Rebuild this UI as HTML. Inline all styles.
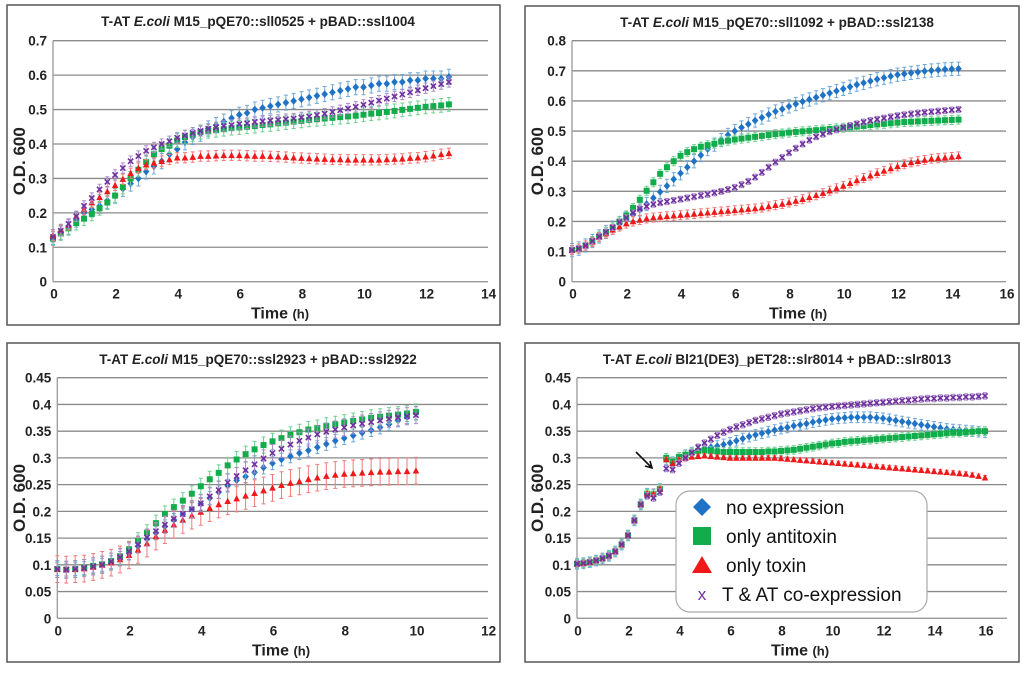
<!DOCTYPE html>
<html><head><meta charset="utf-8"><style>
body{margin:0;background:#fff;width:1024px;height:668px;overflow:hidden;font-family:"Liberation Sans",sans-serif}
svg text{font-family:"Liberation Sans",sans-serif}
</style></head><body>
<svg id="root" width="1024" height="668" viewBox="0 0 1024 668"></svg>
<script>
// ---------- data ----------
const timeStep = 0.25;
// Panel 1
const p1Blue=[0.13,0.145,0.16,0.18,0.20,0.21,0.22,0.235,0.25,0.27,0.285,0.30,0.32,0.335,0.35,0.37,0.385,0.405,0.42,0.43,0.445,0.455,0.465,0.475,0.485,0.49,0.50,0.505,0.51,0.515,0.52,0.525,0.53,0.535,0.54,0.545,0.55,0.555,0.56,0.565,0.565,0.57,0.575,0.575,0.58,0.58,0.585,0.585,0.59,0.59,0.59,0.595];
const p1Green=[0.125,0.14,0.155,0.17,0.183,0.197,0.213,0.23,0.25,0.275,0.30,0.325,0.348,0.37,0.385,0.395,0.41,0.42,0.428,0.435,0.437,0.44,0.443,0.446,0.448,0.45,0.452,0.455,0.457,0.46,0.462,0.465,0.467,0.47,0.472,0.474,0.476,0.478,0.48,0.482,0.485,0.488,0.49,0.493,0.496,0.499,0.502,0.505,0.508,0.51,0.512,0.515];
const p1Red=[0.135,0.15,0.165,0.19,0.21,0.23,0.245,0.262,0.28,0.298,0.315,0.33,0.34,0.345,0.35,0.355,0.36,0.36,0.362,0.365,0.365,0.366,0.367,0.367,0.367,0.366,0.365,0.365,0.364,0.363,0.362,0.36,0.359,0.358,0.357,0.356,0.355,0.355,0.354,0.354,0.354,0.354,0.354,0.355,0.356,0.357,0.359,0.36,0.363,0.366,0.37,0.373];
const p1Purple=[0.13,0.148,0.168,0.19,0.22,0.243,0.268,0.29,0.31,0.33,0.35,0.365,0.38,0.39,0.4,0.408,0.418,0.425,0.432,0.438,0.444,0.448,0.452,0.455,0.458,0.46,0.464,0.466,0.468,0.47,0.472,0.474,0.477,0.48,0.484,0.488,0.493,0.498,0.503,0.508,0.514,0.52,0.526,0.532,0.538,0.544,0.55,0.556,0.562,0.568,0.574,0.58];
const p1Err=[0.022,0.02,0.015,0.015];
// Panel 2
const p2Blue=[0.105,0.11,0.12,0.135,0.15,0.165,0.18,0.195,0.21,0.225,0.24,0.258,0.278,0.298,0.318,0.34,0.36,0.38,0.4,0.42,0.44,0.455,0.47,0.487,0.5,0.512,0.523,0.535,0.545,0.555,0.565,0.573,0.582,0.59,0.598,0.605,0.612,0.619,0.626,0.633,0.64,0.647,0.654,0.66,0.666,0.672,0.677,0.682,0.687,0.69,0.693,0.696,0.699,0.701,0.703,0.705,0.706,0.707];
const p2Green=[0.105,0.11,0.12,0.135,0.15,0.165,0.18,0.2,0.22,0.245,0.272,0.302,0.33,0.358,0.38,0.4,0.418,0.43,0.44,0.448,0.453,0.458,0.465,0.468,0.472,0.475,0.478,0.481,0.484,0.487,0.49,0.492,0.495,0.497,0.499,0.501,0.503,0.505,0.507,0.509,0.511,0.513,0.515,0.517,0.52,0.522,0.524,0.526,0.528,0.53,0.531,0.532,0.533,0.534,0.535,0.536,0.537,0.538];
const p2Red=[0.105,0.11,0.12,0.132,0.148,0.16,0.172,0.183,0.193,0.2,0.205,0.21,0.213,0.215,0.217,0.219,0.221,0.223,0.225,0.227,0.229,0.231,0.233,0.235,0.237,0.239,0.241,0.243,0.246,0.25,0.254,0.258,0.263,0.268,0.274,0.28,0.287,0.294,0.302,0.31,0.318,0.327,0.336,0.344,0.352,0.36,0.368,0.376,0.383,0.39,0.396,0.4,0.404,0.408,0.41,0.412,0.414,0.416];
const p2Purple=[0.105,0.11,0.12,0.135,0.15,0.165,0.18,0.198,0.212,0.228,0.242,0.25,0.257,0.262,0.266,0.27,0.274,0.278,0.282,0.286,0.29,0.295,0.3,0.306,0.313,0.322,0.333,0.347,0.363,0.38,0.397,0.412,0.428,0.443,0.457,0.47,0.481,0.49,0.498,0.505,0.512,0.518,0.524,0.53,0.535,0.539,0.543,0.547,0.551,0.554,0.557,0.56,0.562,0.564,0.566,0.568,0.57,0.572];
const p2Err=[0.022,0.015,0.015,0.01];
// Panel 3
const p3Blue=[0.092,0.091,0.092,0.094,0.097,0.1,0.105,0.113,0.122,0.135,0.148,0.16,0.172,0.184,0.195,0.204,0.214,0.225,0.236,0.248,0.258,0.265,0.273,0.282,0.29,0.297,0.303,0.309,0.314,0.32,0.326,0.332,0.337,0.342,0.347,0.352,0.357,0.363,0.37,0.376,0.384];
const p3Green=[0.092,0.091,0.092,0.095,0.098,0.101,0.107,0.116,0.129,0.145,0.16,0.178,0.195,0.208,0.22,0.233,0.247,0.26,0.272,0.286,0.297,0.307,0.316,0.324,0.331,0.337,0.343,0.348,0.353,0.356,0.36,0.363,0.366,0.369,0.372,0.375,0.377,0.379,0.381,0.383,0.386];
const p3Red=[0.092,0.091,0.092,0.093,0.096,0.1,0.104,0.11,0.118,0.128,0.14,0.153,0.165,0.175,0.184,0.192,0.199,0.206,0.213,0.219,0.224,0.229,0.234,0.239,0.244,0.249,0.253,0.256,0.26,0.263,0.266,0.268,0.27,0.271,0.272,0.273,0.274,0.274,0.275,0.275,0.276];
const p3Purple=[0.092,0.091,0.092,0.094,0.097,0.1,0.106,0.114,0.125,0.138,0.151,0.163,0.175,0.186,0.195,0.204,0.215,0.228,0.24,0.254,0.266,0.277,0.288,0.299,0.309,0.317,0.325,0.332,0.338,0.344,0.349,0.353,0.357,0.361,0.364,0.367,0.37,0.373,0.376,0.378,0.38];
const p3Err=[0.012,0.015,0.025,0.016];
// Panel 4
const p4Early=[0.102,0.103,0.105,0.108,0.112,0.117,0.125,0.138,0.155,0.183,0.213,0.233,0.232,0.242];
const p4EarlyPurple=[0.102,0.103,0.105,0.108,0.112,0.117,0.125,0.138,0.155,0.183,0.213,0.229,0.225,0.236];
const p4Blue=[0.298,0.292,0.3,0.305,0.31,0.315,0.318,0.32,0.322,0.325,0.328,0.332,0.336,0.34,0.343,0.346,0.349,0.352,0.355,0.357,0.36,0.362,0.364,0.367,0.369,0.371,0.373,0.374,0.375,0.376,0.376,0.376,0.376,0.375,0.374,0.372,0.37,0.368,0.366,0.364,0.362,0.36,0.358,0.356,0.354,0.353,0.352,0.351,0.35,0.349,0.348];
const p4Green=[0.3,0.293,0.302,0.306,0.31,0.313,0.314,0.313,0.312,0.311,0.311,0.311,0.311,0.311,0.311,0.311,0.312,0.312,0.313,0.314,0.315,0.317,0.319,0.321,0.323,0.325,0.327,0.328,0.33,0.331,0.332,0.333,0.334,0.335,0.336,0.337,0.338,0.339,0.34,0.341,0.342,0.343,0.344,0.345,0.346,0.347,0.347,0.348,0.349,0.35,0.35];
const p4Red=[0.297,0.29,0.297,0.3,0.302,0.303,0.304,0.303,0.302,0.301,0.3,0.3,0.3,0.3,0.3,0.3,0.3,0.3,0.299,0.298,0.297,0.296,0.295,0.294,0.293,0.292,0.291,0.29,0.289,0.288,0.287,0.286,0.285,0.284,0.283,0.282,0.281,0.28,0.279,0.278,0.277,0.276,0.275,0.274,0.273,0.272,0.271,0.27,0.268,0.266,0.263];
const p4Purple=[0.28,0.278,0.29,0.3,0.31,0.32,0.328,0.335,0.342,0.348,0.353,0.358,0.362,0.366,0.37,0.373,0.376,0.379,0.382,0.384,0.386,0.388,0.39,0.392,0.394,0.395,0.396,0.397,0.398,0.399,0.4,0.401,0.402,0.403,0.404,0.405,0.406,0.407,0.408,0.409,0.41,0.411,0.411,0.412,0.412,0.413,0.413,0.414,0.414,0.415,0.416];
const p4Err=[0.01,0.008,0.004,0.006];
const p4LateStart=3.5;
const legendLabels=["no expression","only antitoxin","only toxin","T & AT co-expression"];
// ---------- drawing ----------
const NS="http://www.w3.org/2000/svg";
const root=document.getElementById('root');
function mk(tag,attrs,parent){const e=document.createElementNS(NS,tag);for(const k in attrs)e.setAttribute(k,attrs[k]);(parent||root).appendChild(e);return e;}
const COL=["#1f73c6","#12ad4b","#f01818","#7030a0"];
const ECOL=["#6fa8dc","#6fcf8f","#f27a7a","#a98bc8"];
const KIND=["diamond","square","triangle","x"];
function marker(g,kind,cx,cy,c){
  let e;
  if(kind==="diamond"){e=mk('path',{d:`M${cx} ${cy-3.8}L${cx+3.3} ${cy}L${cx} ${cy+3.8}L${cx-3.3} ${cy}Z`,fill:c},g);}
  else if(kind==="square"){e=mk('rect',{x:cx-3,y:cy-3,width:6,height:6,fill:c},g);}
  else if(kind==="triangle"){e=mk('path',{d:`M${cx} ${cy-3.5}L${cx+3.3} ${cy+2.8}L${cx-3.3} ${cy+2.8}Z`,fill:c},g);}
  else {e=mk('path',{d:`M${cx-2.6} ${cy-2.6}L${cx+2.6} ${cy+2.6}M${cx+2.6} ${cy-2.6}L${cx-2.6} ${cy+2.6}`,stroke:c,'stroke-width':1.6,fill:'none'},g);}
  return e;
}
function panel(cfg){
  const g=mk('g',{});
  
  
  const b=mk('rect',{x:cfg.box[0],y:cfg.box[1],width:cfg.box[2],height:cfg.box[3],fill:'#fff',stroke:'#555','stroke-width':1.5},g);
  
  const X=v=>cfg.x0+v*cfg.xs, Y=v=>cfg.y0-(v/cfg.ymax)*(cfg.y0-cfg.y1);
  // grid
  for(let i=0;i<=cfg.ny;i++){const v=i*cfg.ystep;const y=Y(v);
    const l=mk('line',{x1:cfg.x0,x2:cfg.xend,y1:y,y2:y,stroke:i===0?'#999':'#8a8a8a','stroke-width':1.3},g);
    
    const t=mk('text',{x:cfg.x0-6,y:y+5,'text-anchor':'end','font-size':13.5,'font-weight':'bold',fill:'#222'},g);
    t.textContent=String(+v.toFixed(2));}
  const ax=mk('line',{x1:cfg.x0,x2:cfg.x0,y1:cfg.y1,y2:cfg.y0,stroke:'#999','stroke-width':1.3},g);
  
  for(let v=0;v<=cfg.xmax;v+=2){const t=mk('text',{x:X(v)+1,y:cfg.y0+17,'text-anchor':'middle','font-size':13.5,'font-weight':'bold',fill:'#222'},g);
    t.textContent=v;}
  const ti=mk('text',{x:cfg.tx,y:cfg.box[1]+21,'text-anchor':'middle','font-size':13.5,'font-weight':'bold',fill:'#222'},g);
  ti.innerHTML=cfg.title;
  const xt=mk('text',{x:cfg.xtx,y:cfg.y0+37,'text-anchor':'middle','font-size':16,'font-weight':'bold',fill:'#222'},g);
  xt.innerHTML='Time <tspan font-size="13">(h)</tspan>';
  const yt=mk('text',{x:0,y:0,'text-anchor':'middle','font-size':17,'font-weight':'bold',fill:'#222',transform:`translate(${cfg.box[0]+18},${(cfg.y0+cfg.y1)/2}) rotate(-90)`},g);
  yt.textContent='O.D. 600';
  cfg.series.forEach((s,si)=>{
    const sg=mk('g',{},g);
    
    s.vals.forEach((v,i)=>{const t=s.start+i*timeStep;const cx=X(t),cy=Y(v);
      const e=cfg.err[si];
      const eb=mk('path',{d:`M${cx} ${Y(v-e)}V${Y(v+e)}M${cx-2} ${Y(v-e)}H${cx+2}M${cx-2} ${Y(v+e)}H${cx+2}`,stroke:ECOL[si],'stroke-width':1,fill:'none'},sg);
      
      const m=marker(sg,KIND[si],cx,cy,COL[si]);
      
    });
  });
  return {g,X,Y};
}
panel({name:'panel-sll0525',box:[7,5,493,320],x0:53,xs:(487.7-53)/14,xend:488,xmax:14,y0:281.7,y1:40.7,ymax:0.7,ystep:0.1,ny:7,tx:258,xtx:280,
  title:'T-AT <tspan font-style="italic">E.coli</tspan> M15_pQE70::sll0525 + pBAD::ssl1004',err:p1Err,
  series:[{vals:p1Blue,start:0},{vals:p1Green,start:0},{vals:p1Red,start:0},{vals:p1Purple,start:0}]});
panel({name:'panel-sll1092',box:[525,6,494,318],x0:572,xs:(1006-572)/16,xend:1006,xmax:16,y0:281.7,y1:40.7,ymax:0.8,ystep:0.1,ny:8,tx:777,xtx:798,
  title:'T-AT <tspan font-style="italic">E.coli</tspan> M15_pQE70::sll1092 + pBAD::ssl2138',err:p2Err,
  series:[{vals:p2Blue,start:0},{vals:p2Green,start:0},{vals:p2Red,start:0},{vals:p2Purple,start:0}]});
panel({name:'panel-ssl2923',box:[7,343,493,319],x0:57.3,xs:(487.7-57.3)/12,xend:488,xmax:12,y0:618.3,y1:377.7,ymax:0.45,ystep:0.05,ny:9,tx:258,xtx:281,
  title:'T-AT <tspan font-style="italic">E.coli</tspan> M15_pQE70::ssl2923 + pBAD::ssl2922',err:p3Err,
  series:[{vals:p3Blue,start:0},{vals:p3Green,start:0},{vals:p3Red,start:0},{vals:p3Purple,start:0}]});
const p4=panel({name:'panel-slr8014',box:[525,343,494,319],x0:577,xs:25.5,xend:1007,xmax:16,y0:618.3,y1:377.7,ymax:0.45,ystep:0.05,ny:9,tx:777,xtx:800,
  title:'T-AT <tspan font-style="italic">E.coli</tspan> Bl21(DE3)_pET28::slr8014 + pBAD::slr8013',err:p4Err,
  series:[{vals:p4Early,start:0},{vals:p4Early,start:0},{vals:p4Early,start:0},{vals:p4EarlyPurple,start:0},
          ].concat([])});
// late part of panel 4
[p4Blue,p4Green,p4Red,p4Purple].forEach((arr,si)=>{
  const sg=mk('g',{},p4.g);
  
  
  arr.forEach((v,i)=>{const t=p4LateStart+i*timeStep;const cx=p4.X(t),cy=p4.Y(v);const e=p4Err[si];
    const eb=mk('path',{d:`M${cx} ${p4.Y(v-e)}V${p4.Y(v+e)}M${cx-2} ${p4.Y(v-e)}H${cx+2}M${cx-2} ${p4.Y(v+e)}H${cx+2}`,stroke:ECOL[si],'stroke-width':1,fill:'none'},sg);
    
    
    const m=marker(sg,KIND[si],cx,cy,COL[si]);
    
    
  });
});
// arrow
const ar=mk('path',{d:'M636 452L651 467M645 466L652 468L650 461',stroke:'#111','stroke-width':1.6,fill:'none'});


// legend
const lg=mk('g',{});


mk('rect',{x:676,y:491,width:251,height:121,rx:14,fill:'#fff',stroke:'#aaa','stroke-width':1.2},lg);
const rowsY=[507,536,565,594];
legendLabels.forEach((lab,i)=>{
  const y=rowsY[i],cx=702;
  let m;
  if(i===0)m=mk('path',{d:`M${cx} ${y-9}L${cx+9} ${y}L${cx} ${y+9}L${cx-9} ${y}Z`,fill:COL[0]},lg);
  else if(i===1)m=mk('rect',{x:cx-9,y:y-9,width:18,height:18,fill:COL[1]},lg);
  else if(i===2)m=mk('path',{d:`M${cx} ${y-9}L${cx+10} ${y+8}L${cx-10} ${y+8}Z`,fill:COL[2]},lg);
  else {m=mk('text',{x:cx,y:y+6,'text-anchor':'middle','font-size':17,fill:COL[3]},lg);m.textContent='x';}
  
  
  const t=mk('text',{x:i===3?722:726,y:y+7,'font-size':19,fill:'#111'},lg);
  t.textContent=lab;
  
  
});
</script>
</body></html>
